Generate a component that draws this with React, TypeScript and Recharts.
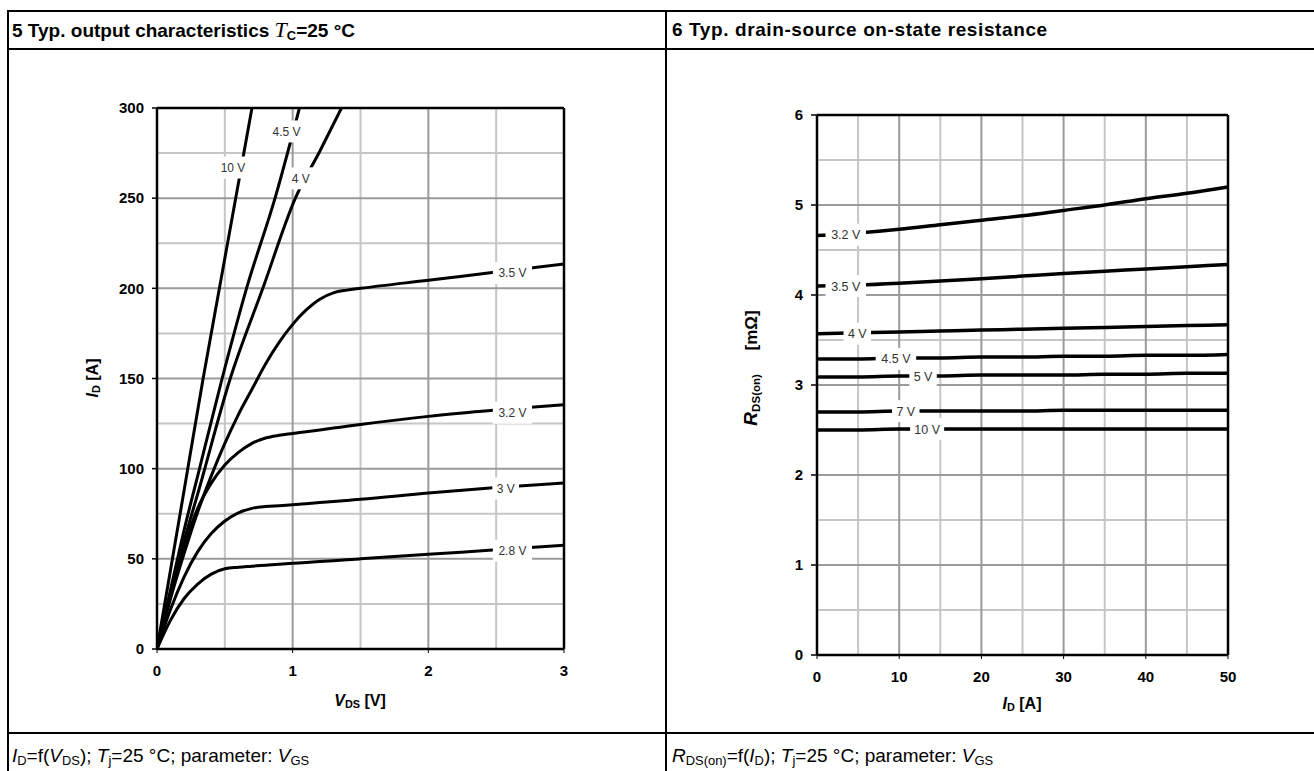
import React from "react";
import {
  LineChart,
  Line,
  XAxis,
  YAxis,
  CartesianGrid,
  ReferenceLine,
  ReferenceDot,
} from "recharts";

const FONT = '"Liberation Sans", Arial, Helvetica, sans-serif';
const SERIF = '"Liberation Serif", "Times New Roman", serif';

// ---- diagram 5: I_D = f(V_DS), parameter V_GS ----
const vds10 = [0, 0.1, 0.2, 0.34, 0.46, 0.58, 0.7];
const id10 = [0, 44, 88, 150, 200, 250, 300];
const vds45 = [0, 0.1, 0.2, 0.3, 0.48, 0.66, 0.87, 1.05];
const id45 = [0, 33, 66, 96, 150, 200, 250, 300];
const vds4 = [0, 0.1, 0.2, 0.3, 0.54, 0.78, 1.02, 1.2, 1.36];
const id4 = [0, 31, 60, 86, 150, 200, 250, 276, 300];
const vdsSat = [0, 0.1, 0.2, 0.3, 0.4, 0.5, 0.6, 0.7, 0.8, 0.9, 1.0, 1.1, 1.2, 1.3, 1.4, 1.5, 2.0, 2.5, 3.0];
const id35 = [0, 28, 53, 76, 96, 114, 130, 144, 158, 170, 180, 188, 194, 197.5, 199, 200, 204.5, 209, 213.5];
const id32 = [0, 30, 57, 78, 92, 102, 109, 114, 117, 118.5, 119.5, 120.5, 121.5, 122.5, 123.5, 124.5, 129, 132.5, 135.5];
const id3 = [0, 22, 40, 54, 64, 71, 75.5, 78, 79, 79.5, 80, 80.6, 81.2, 81.8, 82.4, 83, 86.5, 89.5, 92];
const id28 = [0, 16, 28, 36, 41.5, 44.5, 45.3, 45.9, 46.5, 47, 47.5, 48, 48.5, 49, 49.5, 50, 52.5, 55, 57.5];

const fig5Tags = ["10 V", "4.5 V", "4 V", "3.5 V", "3.2 V", "3 V", "2.8 V"];
const fig5TagX = [0.56, 0.955, 1.06, 2.62, 2.62, 2.57, 2.62];
const fig5TagY = [267, 287, 261, 208.5, 131, 89, 54.5];

const fig5XTicks = [0, 1, 2, 3];
const fig5YTicks = [0, 50, 100, 150, 200, 250, 300];
const fig5XMinor = [0.5, 1.5, 2.5];
const fig5XMajor = [1, 2];
const fig5YMinor = [25, 75, 125, 175, 225, 275];
const fig5YMajor = [50, 100, 150, 200, 250];

// ---- diagram 6: R_DS(on) = f(I_D), parameter V_GS ----
const idAxis = [0, 5, 10, 15, 20, 25, 30, 35, 40, 45, 50];
const r32 = [4.66, 4.69, 4.73, 4.78, 4.83, 4.88, 4.94, 5.0, 5.07, 5.13, 5.2];
const r35 = [4.1, 4.11, 4.13, 4.155, 4.18, 4.21, 4.24, 4.265, 4.29, 4.315, 4.34];
const r4 = [3.57, 3.58, 3.59, 3.6, 3.61, 3.62, 3.63, 3.64, 3.65, 3.66, 3.67];
const r45 = [3.29, 3.29, 3.3, 3.3, 3.31, 3.31, 3.32, 3.32, 3.33, 3.33, 3.34];
const r5 = [3.09, 3.09, 3.1, 3.1, 3.11, 3.11, 3.11, 3.12, 3.12, 3.13, 3.13];
const r7 = [2.7, 2.7, 2.71, 2.71, 2.71, 2.71, 2.72, 2.72, 2.72, 2.72, 2.72];
const r10 = [2.5, 2.5, 2.51, 2.51, 2.51, 2.51, 2.51, 2.51, 2.51, 2.51, 2.51];

const fig6Tags = ["3.2 V", "3.5 V", "4 V", "4.5 V", "5 V", "7 V", "10 V"];
const fig6TagX = [3.5, 3.5, 4.9, 9.6, 12.9, 10.8, 13.4];
const fig6TagY = [4.67, 4.1, 3.57, 3.29, 3.09, 2.71, 2.51];

const fig6XTicks = [0, 10, 20, 30, 40, 50];
const fig6YTicks = [0, 1, 2, 3, 4, 5, 6];
const fig6XMinor = [5, 15, 25, 35, 45];
const fig6XMajor = [10, 20, 30, 40];
const fig6YMinor = [0.5, 1.5, 2.5, 3.5, 4.5, 5.5];
const fig6YMajor = [1, 2, 3, 4, 5];

const zip = (xs: number[], ys: number[]) => xs.map((x, i) => ({ x, y: ys[i] }));

const fig5Series = [
  zip(vds10, id10),
  zip(vds45, id45),
  zip(vds4, id4),
  zip(vdsSat, id35),
  zip(vdsSat, id32),
  zip(vdsSat, id3),
  zip(vdsSat, id28),
];
const fig6Series = [r32, r35, r4, r45, r5, r7, r10].map((r) => zip(idAxis, r));

const tickStyle = { fontSize: 15, fontWeight: 700, fill: "#000", fontFamily: FONT };

function CurveTag(props: any) {
  const { cx, cy, text, fs } = props;
  const w = text.length * fs * 0.52 + 8;
  return (
    <g>
      <rect x={cx - w / 2} y={cy - 11} width={w} height={22} fill="#fff" />
      <text
        x={cx}
        y={cy}
        dy="0.36em"
        textAnchor="middle"
        fontSize={fs}
        fontFamily={FONT}
        fill="#333"
      >
        {text}
      </text>
    </g>
  );
}

const sub = { fontSize: "0.68em", verticalAlign: "-0.25em" } as const;

function Fig5() {
  return (
    <div style={{ position: "absolute", left: 60, top: 90 }}>
      <LineChart width={540} height={630} margin={{ top: 18, right: 36, bottom: 0, left: 0 }}>
        <CartesianGrid stroke="#c6c6c6" strokeWidth={2} verticalValues={fig5XMinor} horizontalValues={fig5YMinor} />
        <CartesianGrid stroke="#9a9a9a" strokeWidth={2} verticalValues={fig5XMajor} horizontalValues={fig5YMajor} />
        <XAxis
          type="number"
          dataKey="x"
          domain={[0, 3]}
          ticks={fig5XTicks}
          allowDataOverflow
          height={71}
          tick={tickStyle}
          tickSize={4}
          tickMargin={12}
          axisLine={{ stroke: "#000", strokeWidth: 2.5 }}
          tickLine={{ stroke: "#000" }}
        />
        <YAxis
          type="number"
          domain={[0, 300]}
          ticks={fig5YTicks}
          allowDataOverflow
          width={97}
          tick={tickStyle}
          tickSize={5}
          tickMargin={8}
          axisLine={{ stroke: "#000", strokeWidth: 2.5 }}
          tickLine={{ stroke: "#000", strokeWidth: 1.5 }}
        />
        <ReferenceLine y={300} stroke="#000" strokeWidth={2.5} />
        <ReferenceLine x={3} stroke="#000" strokeWidth={2.5} />
        {fig5Series.map((d, i) => (
          <Line
            key={fig5Tags[i]}
            data={d}
            dataKey="y"
            type="monotone"
            stroke="#000"
            strokeWidth={3}
            dot={false}
            activeDot={false}
            isAnimationActive={false}
          />
        ))}
        {fig5Tags.map((t, i) => (
          <ReferenceDot
            key={"tag" + t}
            x={fig5TagX[i]}
            y={fig5TagY[i]}
            shape={(p: any) => <CurveTag cx={p.cx} cy={p.cy} text={t} fs={12} />}
          />
        ))}
      </LineChart>
    </div>
  );
}

function Fig6() {
  return (
    <div style={{ position: "absolute", left: 700, top: 90 }}>
      <LineChart width={560} height={640} margin={{ top: 25, right: 32, bottom: 0, left: 0 }}>
        <CartesianGrid stroke="#c6c6c6" strokeWidth={2} verticalValues={fig6XMinor} horizontalValues={fig6YMinor} />
        <CartesianGrid stroke="#9a9a9a" strokeWidth={2} verticalValues={fig6XMajor} horizontalValues={fig6YMajor} />
        <XAxis
          type="number"
          dataKey="x"
          domain={[0, 50]}
          ticks={fig6XTicks}
          height={75}
          tick={tickStyle}
          tickSize={4}
          tickMargin={12}
          axisLine={{ stroke: "#000", strokeWidth: 2.5 }}
          tickLine={{ stroke: "#000" }}
        />
        <YAxis
          type="number"
          domain={[0, 6]}
          ticks={fig6YTicks}
          width={117}
          tick={tickStyle}
          tickSize={6}
          tickMargin={8}
          axisLine={{ stroke: "#000", strokeWidth: 2.5 }}
          tickLine={{ stroke: "#000", strokeWidth: 1.5 }}
        />
        <ReferenceLine y={6} stroke="#000" strokeWidth={2.5} />
        <ReferenceLine x={50} stroke="#000" strokeWidth={2.5} />
        {fig6Series.map((d, i) => (
          <Line
            key={fig6Tags[i]}
            data={d}
            dataKey="y"
            type="monotone"
            stroke="#000"
            strokeWidth={3.5}
            dot={false}
            activeDot={false}
            isAnimationActive={false}
          />
        ))}
        {fig6Tags.map((t, i) => (
          <ReferenceDot
            key={"tag" + t}
            x={fig6TagX[i]}
            y={fig6TagY[i]}
            shape={(p: any) => <CurveTag cx={p.cx} cy={p.cy} text={t} fs={12.5} />}
          />
        ))}
      </LineChart>
    </div>
  );
}

const line = (s: React.CSSProperties): React.CSSProperties => ({
  position: "absolute",
  background: "#000",
  ...s,
});

export default function App() {
  return (
    <div
      style={{
        position: "absolute",
        left: 0,
        top: 0,
        width: 1314,
        height: 771,
        overflow: "hidden",
        background: "#fff",
        fontFamily: FONT,
        color: "#000",
      }}
    >
      {/* table frame */}
      <div style={line({ left: 7, top: 10, width: 1307, height: 2 })} />
      <div style={line({ left: 7, top: 48, width: 1307, height: 2 })} />
      <div style={line({ left: 7, top: 732, width: 1307, height: 2 })} />
      <div style={line({ left: 7, top: 10, width: 2, height: 761 })} />
      <div style={line({ left: 665, top: 10, width: 1.5, height: 761 })} />

      {/* headers */}
      <div style={{ position: "absolute", left: 12, top: 19, fontSize: 19, fontWeight: 700, lineHeight: "22px", whiteSpace: "nowrap" }}>
        5 Typ. output characteristics{" "}
        <span style={{ fontFamily: SERIF, fontStyle: "italic", fontWeight: 400, fontSize: 22 }}>T</span>
        <span style={sub}>C</span>=25 °C
      </div>
      <div style={{ position: "absolute", left: 672, top: 19, fontSize: 19, fontWeight: 700, lineHeight: "22px", whiteSpace: "nowrap", letterSpacing: 0.6 }}>
        6 Typ. drain-source on-state resistance
      </div>

      <Fig5 />
      <Fig6 />

      {/* axis titles */}
      <div style={{ position: "absolute", left: 360, top: 701, transform: "translate(-50%,-50%)", fontSize: 16, fontWeight: 700, whiteSpace: "nowrap" }}>
        <i>V</i>
        <span style={sub}>DS</span> [V]
      </div>
      <div style={{ position: "absolute", left: 93, top: 378, transform: "translate(-50%,-50%) rotate(-90deg)", fontSize: 16, fontWeight: 700, whiteSpace: "nowrap" }}>
        <i>I</i>
        <span style={sub}>D</span> [A]
      </div>
      <div style={{ position: "absolute", left: 1022, top: 704, transform: "translate(-50%,-50%)", fontSize: 16, fontWeight: 700, whiteSpace: "nowrap" }}>
        <i>I</i>
        <span style={sub}>D</span> [A]
      </div>
      <div style={{ position: "absolute", left: 751, top: 368, transform: "translate(-50%,-50%) rotate(-90deg)", fontSize: 17, fontWeight: 700, whiteSpace: "pre" }}>
        <i style={{ fontSize: 19 }}>R</i>
        <span style={sub}>DS(on)</span>{"     "}[mΩ]
      </div>

      {/* footers */}
      <div style={{ position: "absolute", left: 12, top: 745, fontSize: 19, lineHeight: "22px", whiteSpace: "nowrap" }}>
        <i>I</i>
        <span style={sub}>D</span>=f(<i>V</i>
        <span style={sub}>DS</span>); <i>T</i>
        <span style={sub}>j</span>=25 °C; parameter: <i>V</i>
        <span style={sub}>GS</span>
      </div>
      <div style={{ position: "absolute", left: 672, top: 745, fontSize: 19, lineHeight: "22px", whiteSpace: "nowrap" }}>
        <i>R</i>
        <span style={sub}>DS(on)</span>=f(<i>I</i>
        <span style={sub}>D</span>); <i>T</i>
        <span style={sub}>j</span>=25 °C; parameter: <i>V</i>
        <span style={sub}>GS</span>
      </div>
    </div>
  );
}
